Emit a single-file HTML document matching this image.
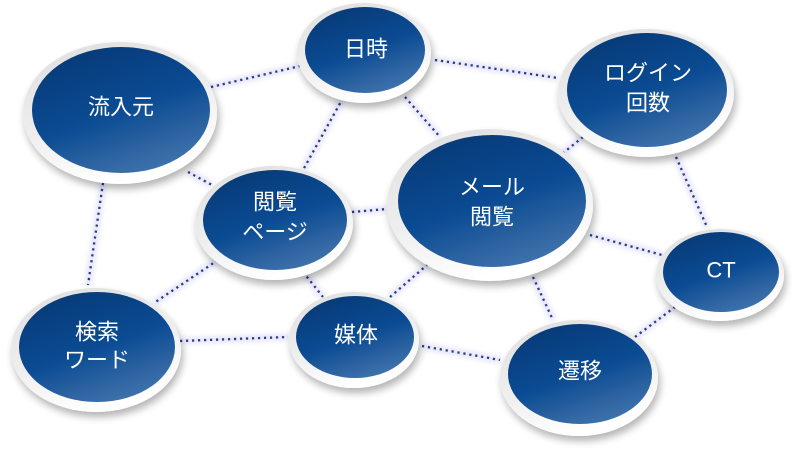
<!DOCTYPE html>
<html><head><meta charset="utf-8"><style>
html,body{margin:0;padding:0;background:#fff;}
svg{display:block;}
text{font-family:"Liberation Sans","Noto Sans CJK JP",sans-serif;font-size:22px;fill:#fff;text-anchor:middle;dominant-baseline:central;}
</style></head><body>
<svg width="800" height="453" viewBox="0 0 800 453" xmlns="http://www.w3.org/2000/svg">
<defs>
<linearGradient id="bl" x1="0.25" y1="0" x2="0.75" y2="1">
<stop offset="0" stop-color="#083a77"/>
<stop offset="0.5" stop-color="#0a4b93"/>
<stop offset="0.78" stop-color="#2d63a1"/>
<stop offset="1" stop-color="#4176ae"/>
</linearGradient>
<linearGradient id="rg" x1="0" y1="0" x2="0.4" y2="1">
<stop offset="0" stop-color="#dedede"/>
<stop offset="0.6" stop-color="#efefef"/>
<stop offset="1" stop-color="#ffffff"/>
</linearGradient>
<filter id="sh" x="-20%" y="-20%" width="140%" height="150%">
<feGaussianBlur in="SourceAlpha" stdDeviation="4"/>
<feOffset dx="2" dy="5" result="b"/>
<feComponentTransfer><feFuncA type="linear" slope="0.3"/></feComponentTransfer>
<feMerge><feMergeNode/><feMergeNode in="SourceGraphic"/></feMerge>
</filter>
<filter id="gl" x="-10%" y="-50%" width="120%" height="200%">
<feGaussianBlur stdDeviation="2.5"/>
</filter>
</defs>

<g stroke="#dcdcf5" stroke-width="7" fill="none" filter="url(#gl)" opacity="0.7">
<line x1="211" y1="87" x2="300" y2="66"/>
<line x1="435" y1="60" x2="558" y2="78"/>
<line x1="343" y1="98" x2="303" y2="170"/>
<line x1="405" y1="97" x2="440" y2="137"/>
<line x1="188" y1="172" x2="212" y2="185"/>
<line x1="103" y1="183" x2="88" y2="285"/>
<line x1="583" y1="137" x2="563" y2="153"/>
<line x1="676" y1="157" x2="707" y2="227"/>
<line x1="352" y1="212" x2="387" y2="209"/>
<line x1="218" y1="260" x2="154" y2="303"/>
<line x1="303" y1="272" x2="323" y2="297"/>
<line x1="180" y1="341" x2="288" y2="337"/>
<line x1="390" y1="297" x2="427" y2="265"/>
<line x1="533" y1="277" x2="553" y2="320"/>
<line x1="590" y1="235" x2="662" y2="255"/>
<line x1="422" y1="346" x2="500" y2="360"/>
<line x1="635" y1="337" x2="675" y2="307"/>
</g>
<g stroke="#2b3a8c" stroke-width="2.3" fill="none" stroke-dasharray="2.2 3.8">
<line x1="211" y1="87" x2="300" y2="66"/>
<line x1="435" y1="60" x2="558" y2="78"/>
<line x1="343" y1="98" x2="303" y2="170"/>
<line x1="405" y1="97" x2="440" y2="137"/>
<line x1="188" y1="172" x2="212" y2="185"/>
<line x1="103" y1="183" x2="88" y2="285"/>
<line x1="583" y1="137" x2="563" y2="153"/>
<line x1="676" y1="157" x2="707" y2="227"/>
<line x1="352" y1="212" x2="387" y2="209"/>
<line x1="218" y1="260" x2="154" y2="303"/>
<line x1="303" y1="272" x2="323" y2="297"/>
<line x1="180" y1="341" x2="288" y2="337"/>
<line x1="390" y1="297" x2="427" y2="265"/>
<line x1="533" y1="277" x2="553" y2="320"/>
<line x1="590" y1="235" x2="662" y2="255"/>
<line x1="422" y1="346" x2="500" y2="360"/>
<line x1="635" y1="337" x2="675" y2="307"/>
</g>

<g>
<ellipse cx="120" cy="113" rx="97" ry="71" fill="url(#rg)" filter="url(#sh)"/>
<ellipse cx="121" cy="110" rx="89" ry="63" fill="url(#bl)"/>
<text x="121" y="107">流入元</text>

<ellipse cx="364" cy="53" rx="67" ry="50" fill="url(#rg)" filter="url(#sh)"/>
<ellipse cx="365" cy="50" rx="60" ry="43" fill="url(#bl)"/>
<text x="366" y="49">日時</text>

<ellipse cx="646" cy="93" rx="88" ry="64" fill="url(#rg)" filter="url(#sh)"/>
<ellipse cx="647" cy="90" rx="80" ry="57" fill="url(#bl)"/>
<text x="648" y="73">ログイン</text>
<text x="648" y="103">回数</text>

<ellipse cx="274" cy="223" rx="79" ry="57" fill="url(#rg)" filter="url(#sh)"/>
<ellipse cx="275" cy="220" rx="72" ry="50" fill="url(#bl)"/>
<text x="275" y="202">閲覧</text>
<text x="275" y="232">ページ</text>

<ellipse cx="490" cy="205" rx="103" ry="76" fill="url(#rg)" filter="url(#sh)"/>
<ellipse cx="492" cy="201" rx="94" ry="66" fill="url(#bl)"/>
<text x="492" y="187">メール</text>
<text x="492" y="217">閲覧</text>

<ellipse cx="96" cy="350" rx="85" ry="62" fill="url(#rg)" filter="url(#sh)"/>
<ellipse cx="97" cy="347" rx="78" ry="55" fill="url(#bl)"/>
<text x="97" y="332">検索</text>
<text x="97" y="360">ワード</text>

<ellipse cx="354" cy="340" rx="65" ry="48" fill="url(#rg)" filter="url(#sh)"/>
<ellipse cx="355" cy="337" rx="59" ry="41" fill="url(#bl)"/>
<text x="356" y="335">媒体</text>

<ellipse cx="579" cy="378" rx="79" ry="58" fill="url(#rg)" filter="url(#sh)"/>
<ellipse cx="580" cy="374" rx="72" ry="50" fill="url(#bl)"/>
<text x="580" y="371">遷移</text>

<ellipse cx="720" cy="275" rx="64" ry="46" fill="url(#rg)" filter="url(#sh)"/>
<ellipse cx="721" cy="272" rx="58" ry="40" fill="url(#bl)"/>
<text x="721" y="270">CT</text>
</g>
</svg>
</body></html>
